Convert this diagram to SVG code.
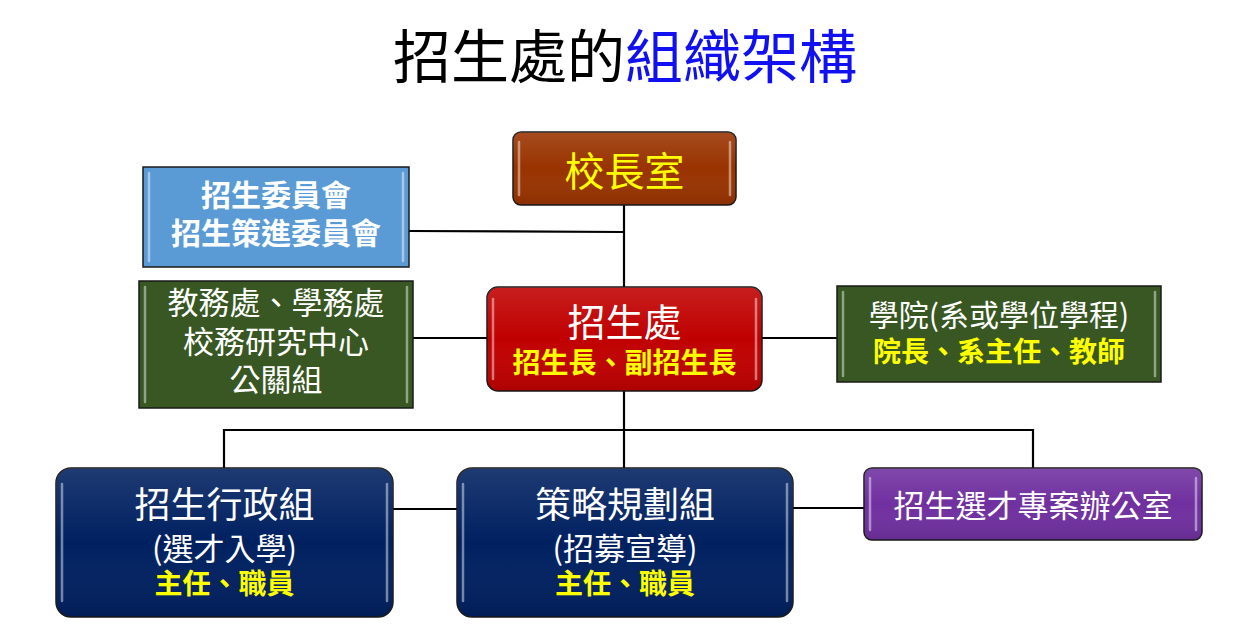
<svg xmlns="http://www.w3.org/2000/svg" width="1248" height="640" viewBox="0 0 1248 640">
<style>
.box{stroke:#1a1a1a;stroke-width:1.5}
.hl{stroke:#ffffff;stroke-opacity:0.45;stroke-width:2.5;stroke-linecap:round;fill:none}
.t{font-family:"Noto Sans CJK TC","Noto Sans CJK SC",sans-serif;text-anchor:middle;dominant-baseline:central}
.w{fill:#ffffff}
.y{fill:#ffff00}
.b{font-weight:bold}
.conn line{stroke:#000;stroke-width:2.2}
</style>
<defs>
<linearGradient id="gloss" x1="0" y1="0" x2="0" y2="1">
<stop offset="0" stop-color="#fff" stop-opacity="0.12"/>
<stop offset="0.5" stop-color="#fff" stop-opacity="0"/>
<stop offset="1" stop-color="#000" stop-opacity="0.1"/>
</linearGradient>
</defs>
<rect width="1248" height="640" fill="#ffffff"/>
<text class="t" x="625" y="53" font-size="58"><tspan fill="#000">招生處的</tspan><tspan fill="#1010f0">組織架構</tspan></text>

<g id="connectors" class="conn">
<line x1="624" y1="205" x2="624" y2="288"/>
<line x1="409" y1="231" x2="624" y2="232"/>
<line x1="413" y1="338" x2="488" y2="338"/>
<line x1="762" y1="338" x2="837" y2="338"/>
<line x1="624" y1="391" x2="624" y2="468"/>
<line x1="223" y1="430" x2="1034" y2="430"/>
<line x1="224" y1="429" x2="224" y2="468"/>
<line x1="1033" y1="429" x2="1033" y2="468"/>
<line x1="393" y1="509" x2="457" y2="509"/>
<line x1="793" y1="508" x2="864" y2="508"/>
</g>

<g id="president">
<rect class="box" x="513" y="132" width="223" height="73" rx="8" fill="#993300"/>
<rect x="513" y="132" width="223" height="73" rx="8" fill="url(#gloss)"/>
<path class="hl" d="M519 142V195M730 142V195"/>
<text class="t y" x="624.5" y="169" font-size="40">校長室</text>
</g>

<g id="committee">
<rect class="box" x="143" y="167" width="266" height="100" fill="#5b9bd5"/>
<path class="hl" d="M149 173V261M403 173V261"/>
<text class="t w b" x="276" y="193" font-size="30">招生委員會</text>
<text class="t w b" x="276" y="231" font-size="30">招生策進委員會</text>
</g>

<g id="offices">
<rect class="box" x="139" y="281" width="274" height="127" fill="#385723"/>
<path class="hl" d="M145 287V402M407 287V402"/>
<text class="t w" x="276" y="300" font-size="31">教務處、學務處</text>
<text class="t w" x="276" y="339" font-size="31">校務研究中心</text>
<text class="t w" x="276" y="377" font-size="31">公關組</text>
</g>

<g id="admissions">
<rect class="box" x="487" y="287" width="275" height="104" rx="11" fill="#c00000"/>
<rect x="487" y="287" width="275" height="104" rx="11" fill="url(#gloss)"/>
<path class="hl" d="M493 299V379M756 299V379"/>
<text class="t w" x="624.5" y="319" font-size="38">招生處</text>
<text class="t y b" x="624.5" y="361" font-size="28">招生長、副招生長</text>
</g>

<g id="colleges">
<rect class="box" x="837" y="286" width="324" height="96" fill="#385723"/>
<path class="hl" d="M843 292V376M1155 292V376"/>
<text class="t w" x="999" y="313" font-size="30">學院(系或學位學程)</text>
<text class="t y b" x="999" y="350" font-size="28">院長、系主任、教師</text>
</g>

<g id="admin-group">
<rect class="box" x="56" y="468" width="337" height="149" rx="15" fill="#002060"/>
<rect x="56" y="468" width="337" height="149" rx="15" fill="url(#gloss)"/>
<path class="hl" d="M62 484V601M387 484V601"/>
<text class="t w" x="224.5" y="502" font-size="36">招生行政組</text>
<text class="t w" x="224.5" y="546" font-size="31">(選才入學)</text>
<text class="t y b" x="224.5" y="582" font-size="28">主任、職員</text>
</g>

<g id="strategy-group">
<rect class="box" x="457" y="468" width="336" height="149" rx="15" fill="#002060"/>
<rect x="457" y="468" width="336" height="149" rx="15" fill="url(#gloss)"/>
<path class="hl" d="M463 484V601M787 484V601"/>
<text class="t w" x="625" y="502" font-size="36">策略規劃組</text>
<text class="t w" x="625" y="546" font-size="31">(招募宣導)</text>
<text class="t y b" x="625" y="582" font-size="28">主任、職員</text>
</g>

<g id="project-office">
<rect class="box" x="864" y="468" width="338" height="72" rx="8" fill="#7030a0"/>
<rect x="864" y="468" width="338" height="72" rx="8" fill="url(#gloss)"/>
<path class="hl" d="M870 478V530M1196 478V530"/>
<text class="t w" x="1033" y="503" font-size="31">招生選才專案辦公室</text>
</g>
</svg>
